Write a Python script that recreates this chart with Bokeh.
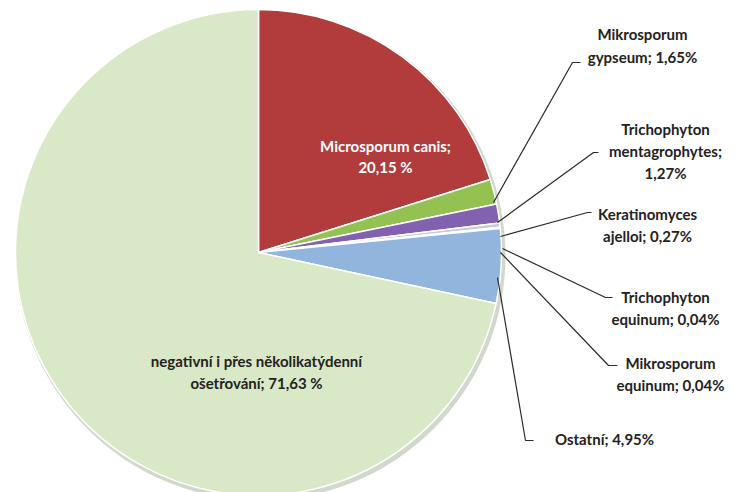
import numpy as np
from bokeh.plotting import figure
from bokeh.models import ColumnDataSource, Range1d
from bokeh.core.properties import value
from bokeh.embed import file_html
from bokeh.resources import INLINE

# ---- data ----
categories = ["Microsporum canis", "Mikrosporum gypseum", "Trichophyton mentagrophytes",
              "Keratinomyces ajelloi", "Trichophyton equinum", "Mikrosporum equinum",
              "Ostatní", "negativní i přes několikatýdenní ošetřování"]
percents = [20.15, 1.65, 1.27, 0.27, 0.04, 0.04, 4.95, 71.63]
colors = ["#b23b3b", "#93c152", "#8262b0", "#c4ccd6", "#a9c7e6", "#a9c7e6", "#92b5dd", "#d9e8c6"]
label_lines = [
    ["Microsporum canis;", "20,15 %"],
    ["Mikrosporum", "gypseum; 1,65%"],
    ["Trichophyton", "mentagrophytes;", "1,27%"],
    ["Keratinomyces", "ajelloi; 0,27%"],
    ["Trichophyton", "equinum; 0,04%"],
    ["Mikrosporum", "equinum; 0,04%"],
    ["Ostatní; 4,95%"],
    ["negativní i přes několikatýdenní", "ošetřování; 71,63 %"],
]

W, H = 740, 492
CX, CY, R = 258, H - 252, 243
FONT = "Lato"

vals = np.array(percents) / sum(percents)
cum = np.concatenate([[0], np.cumsum(vals)])
start = np.pi / 2 - cum[1:] * 2 * np.pi
end = np.pi / 2 - cum[:-1] * 2 * np.pi

p = figure(width=W, height=H, output_backend="svg", toolbar_location=None,
           x_range=Range1d(0, W), y_range=Range1d(0, H), min_border=0)
p.axis.visible = False
p.grid.visible = False
p.outline_line_color = None
p.background_fill_color = "white"

# soft shadow
p.circle(x=CX + 2, y=CY - 3, radius=R + 2, fill_color="#7f8f70", fill_alpha=0.35, line_color=None)

src = ColumnDataSource(dict(start=start, end=end, color=colors, name=categories))
p.wedge(x=CX, y=CY, radius=R, start_angle="start", end_angle="end",
        fill_color="color", line_color="white", line_width=1.5, source=src)

# leader lines: (points in pixel coords)
leaders = [
    [(493, 202), (572, 62), (580, 62)],
    [(497, 222), (593, 152), (598, 152)],
    [(500, 236), (587, 212), (591, 212)],
    [(502, 248), (605, 297), (612, 297)],
    [(500, 252), (608, 365), (617, 365)],
    [(497, 277), (525, 440), (533, 440)],
]
for pts in leaders:
    xs = [a for a, b in pts]
    ys = [H - b for a, b in pts]
    p.line(xs, ys, line_color="#2a2a2a", line_width=1.2)

# label positions (pixel centre of first line), line spacing
label_pos = [(385, 145, 21, "white"), (642, 33, 23, "#222222"), (665, 128, 22, "#222222"),
             (647, 213, 22, "#222222"), (665, 296, 22, "#222222"), (670, 362, 22, "#222222"),
             (604, 438, 22, "#222222"), (256, 360, 22, "#222222")]
for lines, (lx, ly, sp, col) in zip(label_lines, label_pos):
    for i, t in enumerate(lines):
        p.text(x=[lx], y=[H - (ly + i * sp)], text=[t], text_align="center",
               text_baseline="middle", text_font=value(FONT), text_font_style="bold",
               text_font_size="15px", text_color=col)

open("out.html", "w").write(file_html(p, INLINE))
